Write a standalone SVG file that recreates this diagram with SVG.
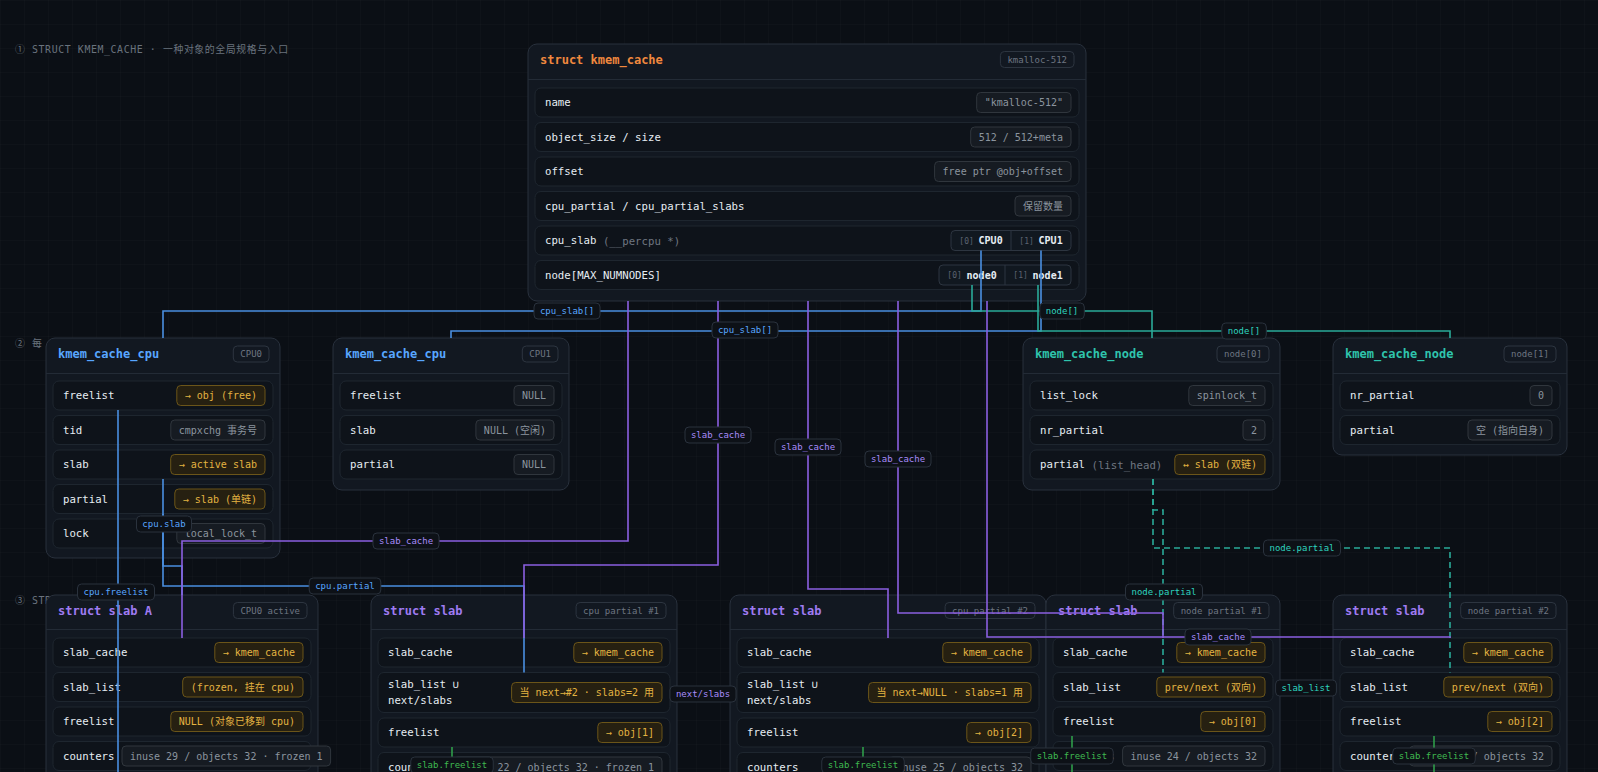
<svg xmlns="http://www.w3.org/2000/svg" width="1598" height="772" viewBox="0 0 1598 772">
<defs>
<pattern id="grid" width="24" height="24" patternUnits="userSpaceOnUse">
<path d="M24 0H0V24" fill="none" stroke="#ffffff" stroke-opacity="0.03" stroke-width="1"/>
</pattern>
<style>
text{font-family:'DejaVu Sans Mono','Liberation Mono','Noto Sans CJK SC',monospace;dominant-baseline:central}
.sec{font-size:9.9px;fill:#6a737e;letter-spacing:0.6px}
.box{fill:#121821;stroke:#29313d;stroke-width:1}
.hl{stroke:#232b36;stroke-width:1}
.row{fill:#0e131a;stroke:#1e262f;stroke-width:1}
.lbl{font-size:10.7px;fill:#e6edf3}
.dim{fill:#6e7681}
.g rect{fill:#161b22;stroke:#30363d}
.g text{font-size:10px;fill:#8b949e;text-anchor:middle}
.y rect{fill:#262011;stroke:#6b5519}
.y text{font-size:10px;fill:#e3b341;text-anchor:middle}
.hb rect{fill:#121821;stroke:#2d3540}
.hb text{font-size:9px;fill:#6e7681;text-anchor:middle}
.sp rect{fill:#111820;stroke:#2d3540}
.sp line{stroke:#2d3540}
.sp text{font-size:10px;font-weight:bold;fill:#e6edf3;text-anchor:middle}
.idx{font-size:8px;font-weight:normal;fill:#5c6370}
.tt{font-size:12px;font-weight:bold}
.or{fill:#f0883e}.bl{fill:#58a6ff}.te{fill:#2fc4ad}.pu{fill:#9f7bf2}
.c{fill:none;stroke-width:1.6}
.cb{stroke:#4a8fe0}.cp{stroke:#8b5fe0}.ct{stroke:#2aaa98}.cg{stroke:#2f9e4a}
.dash{stroke-dasharray:6 4}
.cl rect{fill:#0d1117;stroke:#2a323d}
.cl text{font-size:9px;text-anchor:middle}
.lb{fill:#58a6ff}.lp{fill:#a78bfa}.lt{fill:#2dd4bf}.lg{fill:#3fb950}
</style>
</defs>
<rect width="1598" height="772" fill="#0b0f15"/>
<rect width="1598" height="772" fill="url(#grid)"/>

<text class="sec" x="15" y="49">① STRUCT KMEM_CACHE · 一种对象的全局规格与入口</text>
<text class="sec" x="15" y="343">② 每</text>
<text class="sec" x="15" y="600">③ STR</text>

<g id="kmem_cache">
<rect class="box" x="528" y="44" width="558" height="257" rx="9"/>
<line class="hl" x1="528" y1="79.5" x2="1086" y2="79.5"/>
<text class="tt or" x="540" y="59.5">struct kmem_cache</text>
<g class="hb"><rect x="1000.4" y="51.5" width="73.6" height="16" rx="4"/><text x="1037.2" y="59.5">kmalloc-512</text></g>
<rect class="row" x="535" y="88" width="544" height="29" rx="6"/>
<text class="lbl" x="545" y="102.5">name</text>
<g class="g"><rect x="976.7" y="92.5" width="94.3" height="20" rx="4"/><text x="1023.85" y="102.5">"kmalloc-512"</text></g>
<rect class="row" x="535" y="122.5" width="544" height="29" rx="6"/>
<text class="lbl" x="545" y="137">object_size / size</text>
<g class="g"><rect x="970.7" y="127" width="100.3" height="20" rx="4"/><text x="1020.85" y="137">512 / 512+meta</text></g>
<rect class="row" x="535" y="157" width="544" height="29" rx="6"/>
<text class="lbl" x="545" y="171.5">offset</text>
<g class="g"><rect x="934.6" y="161.5" width="136.4" height="20" rx="4"/><text x="1002.8" y="171.5">free ptr @obj+offset</text></g>
<rect class="row" x="535" y="191.5" width="544" height="29" rx="6"/>
<text class="lbl" x="545" y="206">cpu_partial / cpu_partial_slabs</text>
<g class="g"><rect x="1015" y="196" width="56" height="20" rx="4"/><text x="1043" y="206">保留数量</text></g>
<rect class="row" x="535" y="226" width="544" height="29" rx="6"/>
<text class="lbl" x="545" y="240.5">cpu_slab<tspan class="dim"> (__percpu *)</tspan></text>
<g class="sp"><rect x="951" y="230.5" width="120" height="20" rx="4"/><line x1="1011" y1="230.5" x2="1011" y2="250.5"/>
<text x="981" y="240.5"><tspan class="idx">[0] </tspan>CPU0</text><text x="1041" y="240.5"><tspan class="idx">[1] </tspan>CPU1</text></g>
<rect class="row" x="535" y="260.5" width="544" height="29" rx="6"/>
<text class="lbl" x="545" y="275">node[MAX_NUMNODES]</text>
<g class="sp"><rect x="939" y="265" width="132" height="20" rx="4"/><line x1="1005" y1="265" x2="1005" y2="285"/>
<text x="972" y="275"><tspan class="idx">[0] </tspan>node0</text><text x="1038" y="275"><tspan class="idx">[1] </tspan>node1</text></g>
</g>

<g id="cpu0">
<rect class="box" x="46" y="338" width="234" height="220" rx="9"/>
<line class="hl" x1="46" y1="373.5" x2="280" y2="373.5"/>
<text class="tt bl" x="58" y="354">kmem_cache_cpu</text>
<g class="hb"><rect x="233.3" y="346" width="35.7" height="16" rx="4"/><text x="251.15" y="354">CPU0</text></g>
<rect class="row" x="53" y="381" width="220" height="29" rx="6"/><text class="lbl" x="63" y="395.5">freelist</text>
<g class="y"><rect x="176.8" y="385.5" width="88.2" height="20" rx="4"/><text x="220.9" y="395.5">→ obj (free)</text></g>
<rect class="row" x="53" y="415.5" width="220" height="29" rx="6"/><text class="lbl" x="63" y="430">tid</text>
<g class="g"><rect x="170.8" y="420" width="94.2" height="20" rx="4"/><text x="217.9" y="430">cmpxchg 事务号</text></g>
<rect class="row" x="53" y="450" width="220" height="29" rx="6"/><text class="lbl" x="63" y="464.5">slab</text>
<g class="y"><rect x="170.7" y="454.5" width="94.3" height="20" rx="4"/><text x="217.85" y="464.5">→ active slab</text></g>
<rect class="row" x="53" y="484.5" width="220" height="29" rx="6"/><text class="lbl" x="63" y="499">partial</text>
<g class="y"><rect x="174.8" y="489" width="90.2" height="20" rx="4"/><text x="219.9" y="499">→ slab (单链)</text></g>
<rect class="row" x="53" y="519" width="220" height="29" rx="6"/><text class="lbl" x="63" y="533.5">lock</text>
<g class="g"><rect x="176.8" y="523.5" width="88.2" height="20" rx="4"/><text x="220.9" y="533.5">local_lock_t</text></g>
</g>

<g id="cpu1">
<rect class="box" x="333" y="338" width="236" height="152" rx="9"/>
<line class="hl" x1="333" y1="373.5" x2="569" y2="373.5"/>
<text class="tt bl" x="345" y="354">kmem_cache_cpu</text>
<g class="hb"><rect x="522.3" y="346" width="35.7" height="16" rx="4"/><text x="540.15" y="354">CPU1</text></g>
<rect class="row" x="340" y="381" width="222" height="29" rx="6"/><text class="lbl" x="350" y="395.5">freelist</text>
<g class="g"><rect x="514" y="385.5" width="40" height="20" rx="4"/><text x="534" y="395.5">NULL</text></g>
<rect class="row" x="340" y="415.5" width="222" height="29" rx="6"/><text class="lbl" x="350" y="430">slab</text>
<g class="g"><rect x="475.9" y="420" width="78.1" height="20" rx="4"/><text x="514.95" y="430">NULL (空闲)</text></g>
<rect class="row" x="340" y="450" width="222" height="29" rx="6"/><text class="lbl" x="350" y="464.5">partial</text>
<g class="g"><rect x="514" y="454.5" width="40" height="20" rx="4"/><text x="534" y="464.5">NULL</text></g>
</g>

<g id="node0">
<rect class="box" x="1023" y="338" width="257" height="152" rx="9"/>
<line class="hl" x1="1023" y1="373.5" x2="1280" y2="373.5"/>
<text class="tt te" x="1035" y="354">kmem_cache_node</text>
<g class="hb"><rect x="1217" y="346" width="52" height="16" rx="4"/><text x="1243" y="354">node[0]</text></g>
<rect class="row" x="1030" y="381" width="243" height="29" rx="6"/><text class="lbl" x="1040" y="395.5">list_lock</text>
<g class="g"><rect x="1188.8" y="385.5" width="76.2" height="20" rx="4"/><text x="1226.9" y="395.5">spinlock_t</text></g>
<rect class="row" x="1030" y="415.5" width="243" height="29" rx="6"/><text class="lbl" x="1040" y="430">nr_partial</text>
<g class="g"><rect x="1243" y="420" width="22" height="20" rx="4"/><text x="1254" y="430">2</text></g>
<rect class="row" x="1030" y="450" width="243" height="29" rx="6"/><text class="lbl" x="1040" y="464.5">partial<tspan class="dim"> (list_head)</tspan></text>
<g class="y"><rect x="1174.8" y="454.5" width="90.2" height="20" rx="4"/><text x="1219.9" y="464.5">↔ slab (双链)</text></g>
</g>

<g id="node1">
<rect class="box" x="1333" y="338" width="234" height="117" rx="9"/>
<line class="hl" x1="1333" y1="373.5" x2="1567" y2="373.5"/>
<text class="tt te" x="1345" y="354">kmem_cache_node</text>
<g class="hb"><rect x="1504" y="346" width="52" height="16" rx="4"/><text x="1530" y="354">node[1]</text></g>
<rect class="row" x="1340" y="381" width="220" height="29" rx="6"/><text class="lbl" x="1350" y="395.5">nr_partial</text>
<g class="g"><rect x="1530" y="385.5" width="22" height="20" rx="4"/><text x="1541" y="395.5">0</text></g>
<rect class="row" x="1340" y="415.5" width="220" height="29" rx="6"/><text class="lbl" x="1350" y="430">partial</text>
<g class="g"><rect x="1468" y="420" width="84" height="20" rx="4"/><text x="1510" y="430">空 (指向自身)</text></g>
</g>

<g id="slabA">
<rect class="box" x="46" y="595" width="272" height="210" rx="9"/>
<line class="hl" x1="46" y1="629.5" x2="318" y2="629.5"/>
<text class="tt pu" x="58" y="610.5">struct slab A</text>
<g class="hb"><rect x="233.4" y="602.5" width="73.6" height="16" rx="4"/><text x="270.2" y="610.5">CPU0 active</text></g>
<rect class="row" x="53" y="638" width="258" height="29" rx="6"/><text class="lbl" x="63" y="652.5">slab_cache</text>
<g class="y"><rect x="214.8" y="642.5" width="88.2" height="20" rx="4"/><text x="258.9" y="652.5">→ kmem_cache</text></g>
<rect class="row" x="53" y="672.5" width="258" height="29" rx="6"/><text class="lbl" x="63" y="687">slab_list</text>
<g class="y"><rect x="182.7" y="677" width="120.3" height="20" rx="4"/><text x="242.85" y="687">(frozen, 挂在 cpu)</text></g>
<rect class="row" x="53" y="707" width="258" height="29" rx="6"/><text class="lbl" x="63" y="721.5">freelist</text>
<g class="y"><rect x="170.8" y="711.5" width="132.2" height="20" rx="4"/><text x="236.9" y="721.5">NULL (对象已移到 cpu)</text></g>
<rect class="row" x="53" y="741.5" width="258" height="29" rx="6"/><text class="lbl" x="63" y="756">counters</text>
<g class="g"><rect x="122" y="746" width="208.6" height="20" rx="4"/><text x="226.3" y="756">inuse 29 / objects 32 · frozen 1</text></g>
</g>

<g id="slab1">
<rect class="box" x="371" y="595" width="306" height="210" rx="9"/>
<line class="hl" x1="371" y1="629.5" x2="677" y2="629.5"/>
<text class="tt pu" x="383" y="610.5">struct slab</text>
<g class="hb"><rect x="576.1" y="602.5" width="89.9" height="16" rx="4"/><text x="621.05" y="610.5">cpu partial #1</text></g>
<rect class="row" x="378" y="638" width="292" height="29" rx="6"/><text class="lbl" x="388" y="652.5">slab_cache</text>
<g class="y"><rect x="573.8" y="642.5" width="88.2" height="20" rx="4"/><text x="617.9" y="652.5">→ kmem_cache</text></g>
<rect class="row" x="378" y="672.5" width="292" height="40" rx="6"/><text class="lbl" x="388" y="684.5">slab_list ∪</text><text class="lbl" x="388" y="700.5">next/slabs</text>
<g class="y"><rect x="511.6" y="682.5" width="150.4" height="20" rx="4"/><text x="586.8" y="692.5">当 next→#2 · slabs=2 用</text></g>
<rect class="row" x="378" y="718" width="292" height="29" rx="6"/><text class="lbl" x="388" y="732.5">freelist</text>
<g class="y"><rect x="597.8" y="722.5" width="64.2" height="20" rx="4"/><text x="629.9" y="732.5">→ obj[1]</text></g>
<rect class="row" x="378" y="752.5" width="292" height="29" rx="6"/><text class="lbl" x="388" y="767">counters</text>
<g class="g"><rect x="453.4" y="757" width="208.6" height="20" rx="4"/><text x="557.7" y="767">inuse 22 / objects 32 · frozen 1</text></g>
</g>

<g id="slab2">
<rect class="box" x="730" y="595" width="316" height="210" rx="9"/>
<line class="hl" x1="730" y1="629.5" x2="1046" y2="629.5"/>
<text class="tt pu" x="742" y="610.5">struct slab</text>
<g class="hb"><rect x="945.1" y="602.5" width="89.9" height="16" rx="4"/><text x="990.05" y="610.5">cpu partial #2</text></g>
<rect class="row" x="737" y="638" width="302" height="29" rx="6"/><text class="lbl" x="747" y="652.5">slab_cache</text>
<g class="y"><rect x="942.8" y="642.5" width="88.2" height="20" rx="4"/><text x="986.9" y="652.5">→ kmem_cache</text></g>
<rect class="row" x="737" y="672.5" width="302" height="40" rx="6"/><text class="lbl" x="747" y="684.5">slab_list ∪</text><text class="lbl" x="747" y="700.5">next/slabs</text>
<g class="y"><rect x="868.6" y="682.5" width="162.4" height="20" rx="4"/><text x="949.8" y="692.5">当 next→NULL · slabs=1 用</text></g>
<rect class="row" x="737" y="718" width="302" height="29" rx="6"/><text class="lbl" x="747" y="732.5">freelist</text>
<g class="y"><rect x="966.8" y="722.5" width="64.2" height="20" rx="4"/><text x="998.9" y="732.5">→ obj[2]</text></g>
<rect class="row" x="737" y="752.5" width="302" height="29" rx="6"/><text class="lbl" x="747" y="767">counters</text>
<g class="g"><rect x="888.6" y="757" width="142.4" height="20" rx="4"/><text x="959.8" y="767">inuse 25 / objects 32</text></g>
</g>

<g id="slabN1">
<rect class="box" x="1046" y="595" width="234" height="210" rx="9"/>
<line class="hl" x1="1046" y1="629.5" x2="1280" y2="629.5"/>
<text class="tt pu" x="1058" y="610.5">struct slab</text>
<g class="hb"><rect x="1173.7" y="602.5" width="95.3" height="16" rx="4"/><text x="1221.35" y="610.5">node partial #1</text></g>
<rect class="row" x="1053" y="638" width="220" height="29" rx="6"/><text class="lbl" x="1063" y="652.5">slab_cache</text>
<g class="y"><rect x="1176.8" y="642.5" width="88.2" height="20" rx="4"/><text x="1220.9" y="652.5">→ kmem_cache</text></g>
<rect class="row" x="1053" y="672.5" width="220" height="29" rx="6"/><text class="lbl" x="1063" y="687">slab_list</text>
<g class="y"><rect x="1156.8" y="677" width="108.2" height="20" rx="4"/><text x="1210.9" y="687">prev/next (双向)</text></g>
<rect class="row" x="1053" y="707" width="220" height="29" rx="6"/><text class="lbl" x="1063" y="721.5">freelist</text>
<g class="y"><rect x="1200.8" y="711.5" width="64.2" height="20" rx="4"/><text x="1232.9" y="721.5">→ obj[0]</text></g>
<rect class="row" x="1053" y="741.5" width="220" height="29" rx="6"/><text class="lbl" x="1063" y="756">counters</text>
<g class="g"><rect x="1122.6" y="746" width="142.4" height="20" rx="4"/><text x="1193.8" y="756">inuse 24 / objects 32</text></g>
</g>

<g id="slabN2">
<rect class="box" x="1333" y="595" width="234" height="210" rx="9"/>
<line class="hl" x1="1333" y1="629.5" x2="1567" y2="629.5"/>
<text class="tt pu" x="1345" y="610.5">struct slab</text>
<g class="hb"><rect x="1460.7" y="602.5" width="95.3" height="16" rx="4"/><text x="1508.35" y="610.5">node partial #2</text></g>
<rect class="row" x="1340" y="638" width="220" height="29" rx="6"/><text class="lbl" x="1350" y="652.5">slab_cache</text>
<g class="y"><rect x="1463.8" y="642.5" width="88.2" height="20" rx="4"/><text x="1507.9" y="652.5">→ kmem_cache</text></g>
<rect class="row" x="1340" y="672.5" width="220" height="29" rx="6"/><text class="lbl" x="1350" y="687">slab_list</text>
<g class="y"><rect x="1443.8" y="677" width="108.2" height="20" rx="4"/><text x="1497.9" y="687">prev/next (双向)</text></g>
<rect class="row" x="1340" y="707" width="220" height="29" rx="6"/><text class="lbl" x="1350" y="721.5">freelist</text>
<g class="y"><rect x="1487.8" y="711.5" width="64.2" height="20" rx="4"/><text x="1519.9" y="721.5">→ obj[2]</text></g>
<rect class="row" x="1340" y="741.5" width="220" height="29" rx="6"/><text class="lbl" x="1350" y="756">counters</text>
<g class="g"><rect x="1409.6" y="746" width="142.4" height="20" rx="4"/><text x="1480.8" y="756">inuse 20 / objects 32</text></g>
</g>

<g id="connectors">
<path class="c cb" d="M981 250.5V311H163V338"/>
<path class="c cb" d="M1041 250.5V331H451V338"/>
<path class="c cb" d="M118 410V772"/>
<path class="c cb" d="M163 479V566H182V595"/>
<path class="c cb" d="M163 514V586H524V672.5"/>
<path class="c ct" d="M972 285V311H1152V338"/>
<path class="c ct" d="M1038 285V331H1450V338"/>
<path class="c ct dash" d="M1153 479V510H1163V672.5"/>
<path class="c ct dash" d="M1153 479V548H1450V672.5"/>
<path class="c ct" d="M1280 687H1333"/>
<path class="c cp" d="M628 301V541H182V638"/>
<path class="c cp" d="M718 301V565H524V638"/>
<path class="c cp" d="M808 301V589H888V638"/>
<path class="c cp" d="M898 301V613H1163V638"/>
<path class="c cp" d="M987 301V637H1450V638"/>
<path class="c cp" d="M677 692.5H730"/>
<path class="c cg" d="M452 747V772"/>
<path class="c cg" d="M863 747V772"/>
<path class="c cg" d="M1072 736V772"/>
<path class="c cg" d="M1434 736V772"/>

<g class="cl"><rect x="534" y="303" width="66" height="16" rx="4"/><text class="lb" x="567" y="311">cpu_slab[]</text></g>
<g class="cl"><rect x="712" y="322" width="66" height="16" rx="4"/><text class="lb" x="745" y="330">cpu_slab[]</text></g>
<g class="cl"><rect x="1039.8" y="303" width="44.5" height="16" rx="4"/><text class="lt" x="1062" y="311">node[]</text></g>
<g class="cl"><rect x="1221.8" y="323" width="44.5" height="16" rx="4"/><text class="lt" x="1244" y="331">node[]</text></g>
<g class="cl"><rect x="373" y="533" width="66" height="16" rx="4"/><text class="lp" x="406" y="541">slab_cache</text></g>
<g class="cl"><rect x="685" y="427" width="66" height="16" rx="4"/><text class="lp" x="718" y="435">slab_cache</text></g>
<g class="cl"><rect x="775" y="439" width="66" height="16" rx="4"/><text class="lp" x="808" y="447">slab_cache</text></g>
<g class="cl"><rect x="865" y="451" width="66" height="16" rx="4"/><text class="lp" x="898" y="459">slab_cache</text></g>
<g class="cl"><rect x="1185" y="629" width="66" height="16" rx="4"/><text class="lp" x="1218" y="637">slab_cache</text></g>
<g class="cl"><rect x="136.5" y="516" width="55" height="16" rx="4"/><text class="lb" x="164" y="524">cpu.slab</text></g>
<g class="cl"><rect x="77.5" y="584" width="77" height="16" rx="4"/><text class="lb" x="116" y="592">cpu.freelist</text></g>
<g class="cl"><rect x="309.2" y="578" width="71.6" height="16" rx="4"/><text class="lb" x="345" y="586">cpu.partial</text></g>
<g class="cl"><rect x="1263.5" y="540" width="77" height="16" rx="4"/><text class="lt" x="1302" y="548">node.partial</text></g>
<g class="cl"><rect x="1125.5" y="584" width="77" height="16" rx="4"/><text class="lt" x="1164" y="592">node.partial</text></g>
<g class="cl"><rect x="670" y="686" width="66" height="16" rx="4"/><text class="lp" x="703" y="694">next/slabs</text></g>
<g class="cl"><rect x="1275.6" y="680" width="60.8" height="16" rx="4"/><text class="lt" x="1306" y="688">slab_list</text></g>
<g class="cl"><rect x="410.75" y="757" width="82.5" height="16" rx="4"/><text class="lg" x="452" y="765">slab.freelist</text></g>
<g class="cl"><rect x="821.75" y="757" width="82.5" height="16" rx="4"/><text class="lg" x="863" y="765">slab.freelist</text></g>
<g class="cl"><rect x="1030.75" y="748" width="82.5" height="16" rx="4"/><text class="lg" x="1072" y="756">slab.freelist</text></g>
<g class="cl"><rect x="1392.75" y="748" width="82.5" height="16" rx="4"/><text class="lg" x="1434" y="756">slab.freelist</text></g>
</g>
</svg>
